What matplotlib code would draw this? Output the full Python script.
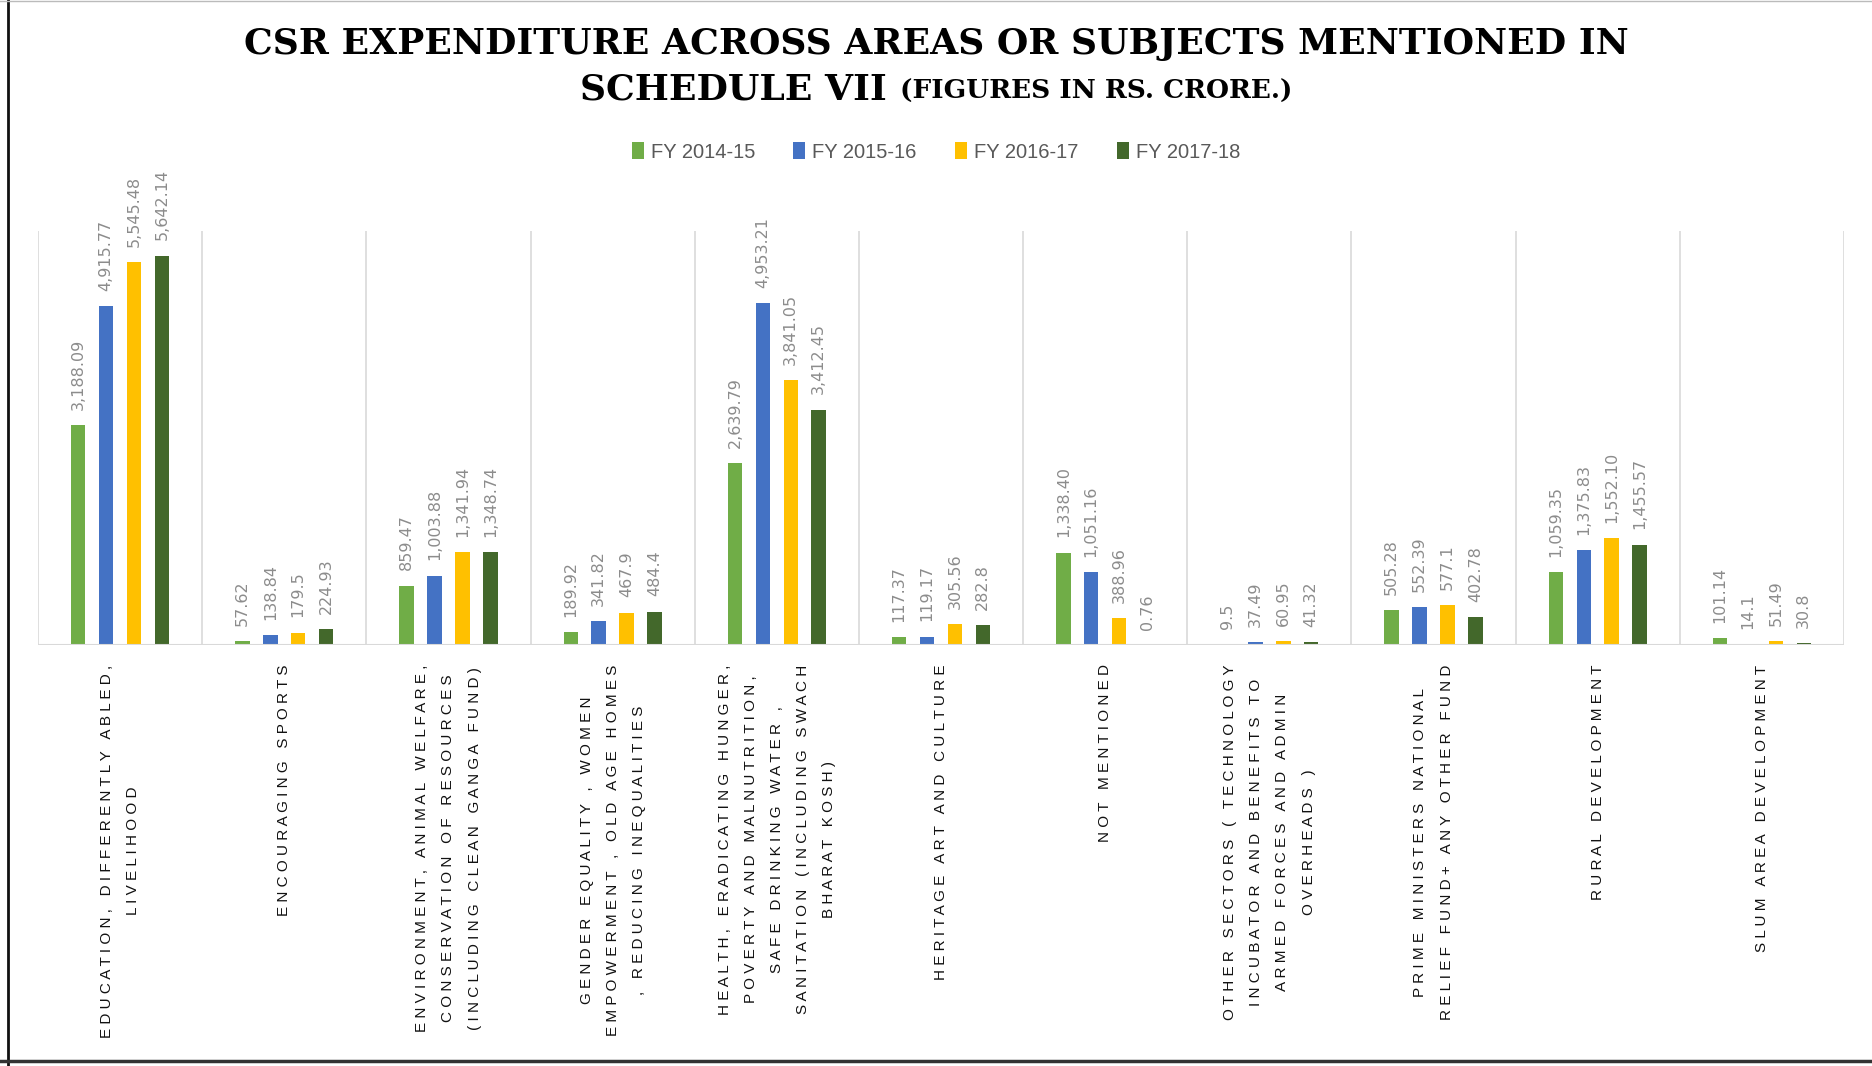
#!/usr/bin/env python3
# -*- coding: utf-8 -*-
"""
CSR expenditure across Schedule VII areas, FY 2014-15 to FY 2017-18
"""

import numpy as np
from matplotlib import pyplot as plt
from matplotlib.lines import Line2D

#%% DATA

CATEGORIES = ['EDUCATION, DIFFERENTLY ABLED,\nLIVELIHOOD',
              'ENCOURAGING SPORTS',
              'ENVIRONMENT, ANIMAL WELFARE,\nCONSERVATION OF RESOURCES\n(INCLUDING CLEAN GANGA FUND)',
              'GENDER EQUALITY , WOMEN\nEMPOWERMENT , OLD AGE HOMES\n, REDUCING INEQUALITIES',
              'HEALTH, ERADICATING HUNGER,\nPOVERTY AND MALNUTRITION,\nSAFE DRINKING WATER ,\nSANITATION (INCLUDING SWACH\nBHARAT KOSH)',
              'HERITAGE ART AND CULTURE',
              'NOT MENTIONED',
              'OTHER SECTORS ( TECHNOLOGY\nINCUBATOR AND BENEFITS TO\nARMED FORCES AND ADMIN\nOVERHEADS )',
              'PRIME MINISTERS NATIONAL\nRELIEF FUND+ ANY OTHER FUND',
              'RURAL DEVELOPMENT',
              'SLUM AREA DEVELOPMENT']

SERIES = ['FY 2014-15', 'FY 2015-16', 'FY 2016-17', 'FY 2017-18']

FY_2014_15 = [3188.09, 57.62, 859.47, 189.92, 2639.79, 117.37, 1338.40, 9.5, 505.28, 1059.35, 101.14]
FY_2015_16 = [4915.77, 138.84, 1003.88, 341.82, 4953.21, 119.17, 1051.16, 37.49, 552.39, 1375.83, 14.1]
FY_2016_17 = [5545.48, 179.5, 1341.94, 467.9, 3841.05, 305.56, 388.96, 60.95, 577.1, 1552.10, 51.49]
FY_2017_18 = [5642.14, 224.93, 1348.74, 484.4, 3412.45, 282.8, 0.76, 41.32, 402.78, 1455.57, 30.8]

COLORS = ['#70AD47', '#4472C4', '#FFC000', '#43682B']

TITLE_1 = 'CSR EXPENDITURE ACROSS AREAS OR SUBJECTS MENTIONED IN'
TITLE_2 = 'SCHEDULE VII '
TITLE_3 = '(FIGURES IN RS. CRORE.)'

#%% HELPERS

def spaced(text):
    # imitate the wide character spacing of the original labels
    return '\n'.join(' '.join(line) for line in text.split('\n'))

def fmt(v):
    return f'{v:,.2f}' if v >= 1000 else str(v)

#%% PLOT

W, H = 1872, 1066
fig = plt.figure(figsize=(W/100, H/100), dpi=100)
ax = fig.add_axes([38/W, 1 - 645/H, (1844-38)/W, (645-231)/H])

x = np.arange(len(CATEGORIES))
data = [FY_2014_15, FY_2015_16, FY_2016_17, FY_2017_18]
step, width = 0.17, 0.088

for i, (vals, name, col) in enumerate(zip(data, SERIES, COLORS)):
    pos = x + (i - 1.5) * step
    ax.bar(pos, vals, width, color=col, label=name, zorder=2)
    for px, v in zip(pos, vals):
        ax.annotate(fmt(v), xy=(px, v), xytext=(0, 11), textcoords='offset points',
                    rotation=90, ha='center', va='bottom', fontsize=11.5,
                    color='#8c8c8c', family='DejaVu Sans', annotation_clip=False)

ax.set_xlim(-0.5, len(CATEGORIES) - 0.5)
ax.set_ylim(0, 6000)
for d in np.arange(-0.5, len(CATEGORIES), 1.0):
    ax.axvline(d, color='#d9d9d9', lw=1.2, zorder=1)
ax.axhline(0, color='#d9d9d9', lw=1.5, zorder=3)
for s in ax.spines.values():
    s.set_visible(False)
ax.set_xticks([])
ax.set_yticks([])

for i, cat in enumerate(CATEGORIES):
    ax.annotate(spaced(cat), xy=(i, 0), xycoords=('data', 'axes fraction'),
                xytext=(0, -14), textcoords='offset points', rotation=90,
                ha='center', va='top', multialignment='center',
                fontsize=11, family='Liberation Sans', color='#111111',
                linespacing=2.1)

# legend
fig.legend(loc='center', bbox_to_anchor=(0.5, 1 - 152/H), ncol=4, frameon=False,
           handlelength=0.6, handleheight=0.9, handletextpad=0.35, columnspacing=1.9,
           prop={'family': 'Liberation Sans', 'size': 14.5}, labelcolor='#595959')

# title
fig.text(0.5, 1 - 44/H, TITLE_1, ha='center', va='center', fontsize=26,
         fontweight='bold', family='DejaVu Serif')
t2 = fig.text(0.5, 1 - 99/H, TITLE_2, ha='left', va='baseline', fontsize=26,
              fontweight='bold', family='DejaVu Serif')
t3 = fig.text(0.5, 1 - 99/H, TITLE_3, ha='left', va='baseline', fontsize=19,
              fontweight='bold', family='DejaVu Serif')
fig.canvas.draw()
r = fig.canvas.get_renderer()
w2 = t2.get_window_extent(r).width
w3 = t3.get_window_extent(r).width
x0 = (W - w2 - w3) / 2
t2.set_x(x0 / W)
t3.set_x((x0 + w2) / W)

# frame round the chart
fig.add_artist(Line2D([8/W, 8/W], [0, 1], color='#111111', lw=2))
fig.add_artist(Line2D([0, 1], [5/H, 5/H], color='#333333', lw=2.5))
fig.add_artist(Line2D([0, 1], [1 - 1/H, 1 - 1/H], color='#bbbbbb', lw=1))

fig.savefig('out.png', dpi=100, facecolor='white')
